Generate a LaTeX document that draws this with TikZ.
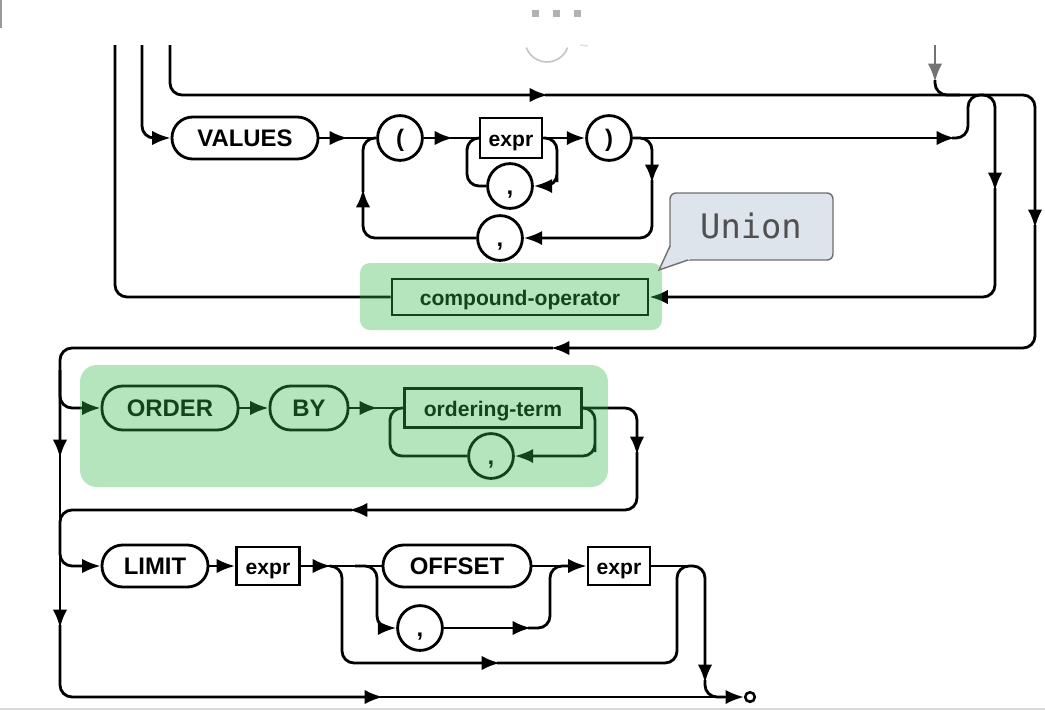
\documentclass[tikz,border=0pt]{standalone}
\usepackage{fontspec}
\setmainfont{Liberation Sans}
\newfontfamily\tipfont{DejaVu Sans Mono}
\usetikzlibrary{arrows.meta}

\definecolor{hilite}{RGB}{54,184,76}
\definecolor{tipfill}{RGB}{221,228,236}
\definecolor{tipline}{RGB}{110,110,110}
\definecolor{tiptext}{RGB}{80,80,80}

\tikzset{
	rail/.style={line width=2pt, rounded corners=0.3cm},
	kw/.style={draw, line width=2pt, rounded corners=0.52cm, minimum height=1.05cm,
		inner sep=0pt, text height=12.2pt, text depth=0pt,
		font=\fontsize{17}{20}\selectfont\bfseries},
	nt/.style={draw, line width=2pt, rectangle, minimum height=0.95cm,
		inner sep=0pt, text height=11.4pt, text depth=0pt,
		font=\fontsize{15}{18}\selectfont\bfseries},
	punct/.style={draw, line width=2pt, circle, minimum size=1.12cm,
		inner sep=0pt, text height=12.2pt, text depth=0pt,
		font=\fontsize{17}{20}\selectfont\bfseries},
	hl/.style={fill=hilite, fill opacity=0.37, draw=none},
}

\begin{document}
\begin{tikzpicture}[x=0.025cm, y=-0.025cm, >={Latex[length=0.46cm,width=0.36cm]}]
			\useasboundingbox (0,0) rectangle (1045,712);

			% screen leftovers
			\fill[gray!80] (0,0) rectangle (2,28);
			\foreach \x in {535,556,577}
				\fill[gray!60] (\x-3.5,9.5) rectangle (\x+3.5,16.5);
			\draw[gray!45, line width=1.2pt] (526.3,47.5) arc[start angle=200, end angle=340, radius=0.55cm];
			\draw[gray!25, line width=1pt] (580,45) -- (588,46);
			\draw[gray!30, line width=1.5pt] (0,709) -- (1045,709);

			% nodes
			\node[kw, minimum width=3.65cm] (values) at (245,138) {VALUES};
			\node[punct] (lparen) at (400,138) {(};
			\node[nt, minimum width=1.55cm, minimum height=1.0cm] (vexpr) at (511,138) {expr};
			\node[punct] (vcomma) at (510,186) {,};
			\node[punct] (rparen) at (609,138) {)};
			\node[punct] (rcomma) at (500,238) {,};
			\node[nt, minimum width=6.4cm, minimum height=0.9cm] (compop) at (520,297) {compound-operator};

			\node[kw, minimum width=3.4cm, minimum height=1.1cm] (order) at (170,408) {ORDER};
			\node[kw, minimum width=1.95cm, minimum height=1.1cm] (by) at (309,408) {BY};
			\node[nt, minimum width=4.43cm, minimum height=0.98cm] (oterm) at (493,408) {ordering-term};
			\node[punct] (ocomma) at (491,456) {,};

			\node[kw, minimum width=2.65cm] (limit) at (155,566) {LIMIT};
			\node[nt, minimum width=1.575cm] (lexpr) at (268,566) {expr};
			\node[kw, minimum width=3.7cm] (offset) at (457,566) {OFFSET};
			\node[punct] (lcomma) at (420,628) {,};
			\node[nt, minimum width=1.55cm] (oexpr) at (619,566) {expr};
			\node[circle, draw, line width=1.8pt, inner sep=0pt, minimum size=0.24cm] (endpt) at (750,697) {};

			% outer rails
			\draw[rail] (compop.west) -| (115,45);
			\draw[rail,->] (142,45) |- (values.west);
			\draw[rail,->] (170,45) |- (548,95);
			\draw[rail,black!55,->] (935,45) -- (935,82);
			\draw[rail] (935,80) |- (960,95);
			\draw[rail,->] (545,95) -| (1035,228);
			\draw[rail,->] (1035,225) |- (551,348);
			\draw[rail,->] (553,348) -| (60,458);
			\draw[rail,->] (60,455) -- (60,628);
			\draw[rail,->] (60,625) |- (383,697);
			\draw[rail,->] (380,697) -- (endpt.west);

			% values row
			\draw[rail,->] (values.east) -- (348,138);
			\draw[rail] (345,138) -- (lparen.west);
			\draw[rail,->] (lparen.east) -- (453,138);
			\draw[rail] (450,138) -- (vexpr.west);
			\draw[rail,->] (vexpr.east) -- (rparen.west);
			\draw[rail,->] (vexpr.east) -| (557,170) |- (vcomma.east);
			\draw[rail] (vcomma.west) -| (467,160) |- (vexpr.west);
			\draw[rail,->] (rparen.east) -| (652,183);
			\draw[rail,->] (652,180) |- (rcomma.east);
			\draw[rail,->] (rcomma.west) -| (363,189);
			\draw[rail] (363,192) |- (lparen.west);
			\draw[rail,->] (rparen.east) -- (955,138);
			\draw[rail,->] (952,138) -| (968,95) -| (995,191);
			\draw[rail,->] (995,188) |- (compop.east);

			% order by
			\draw[rail,->] (60,370) |- (order.west);
			\draw[rail,->] (order.east) -- (by.west);
			\draw[rail,->] (by.east) -- (378,408);
			\draw[rail] (375,408) -- (oterm.west);
			\draw[rail,->] (oterm.east) -| (595,440) |- (ocomma.east);
			\draw[rail] (ocomma.west) -| (390,430) |- (oterm.west);
			\draw[rail,->] (oterm.east) -| (637,455);
			\draw[rail,->] (637,452) |- (349,510);
			\draw[rail] (352,510) -| (60,540);

			% limit
			\draw[rail,->] (60,540) |- (limit.west);
			\draw[rail,->] (limit.east) -- (lexpr.west);
			\draw[rail,->] (lexpr.east) -- (331,566);
			\draw[rail] (328,566) -- (offset.west);
			\draw[rail,->] (offset.east) -- (oexpr.west);
			\draw[rail,->] (355,566) -| (377,600) |- (lcomma.west);
			\draw[rail,->] (lcomma.east) -- (531,628);
			\draw[rail] (528,628) -| (550,600) |- (575,566);
			\draw[rail,->] (330,566) -| (342,620) |- (500,663);
			\draw[rail] (oexpr.east) -- (690,566);
			\draw[rail,->] (497,663) -| (677,566) -| (705,683);
			\draw[rail] (705,680) |- (725,697);

			% highlights
			\fill[hl, rounded corners=0.25cm] (360,263) rectangle (662,330);
			\fill[hl, rounded corners=0.42cm] (80,365) rectangle (608,487);

			% callout
			\filldraw[fill=tipfill, draw=tipline, line width=1pt, rounded corners=0.15cm] (670,193) rectangle (833,260);
			\fill[tipfill] (671,246) -- (659,270) -- (690,259.4) -- cycle;
			\draw[tipline, line width=1pt] (670,246) -- (659,270) -- (688,260);
			\node[font=\tipfont\fontsize{24}{28}\selectfont, text=tiptext] (union) at (751,226) {Union};
		\end{tikzpicture}
\end{document}
